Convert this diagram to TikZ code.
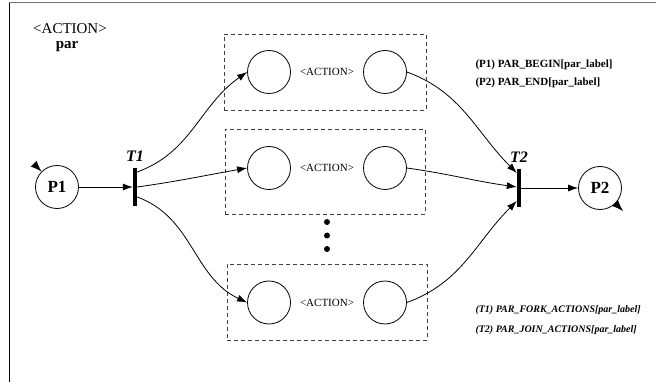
\documentclass[tikz,border=0pt]{standalone}
\usepackage{fontspec}
\setmainfont{Liberation Serif}
\usetikzlibrary{arrows.meta, positioning}

\begin{document}
\begin{tikzpicture}[x = 1pt, y = 1pt,
    place/.style = {draw, circle, minimum size = 43pt, inner sep = 0pt, line width = 0.8pt},
    trans/.style = {fill, minimum width = 4pt, minimum height = 38pt, inner sep = 0pt},
    actbox/.style = {draw = black!75, line width = 0.9pt, dash pattern = on 4pt off 3pt, inner sep = 0pt},
    arc/.style = {line width = 0.8pt, arrows = {-Latex[length = 10pt, width = 7pt]}},
    token/.style = {arrows = {-Latex[length = 11pt, width = 8pt]}},
    dotnode/.style = {circle, fill, minimum size = 6pt, inner sep = 0pt},
    bigbold/.style = {font = \bfseries\fontsize{17}{17}\selectfont},
    tlabel/.style = {font = \bfseries\itshape\fontsize{16}{16}\selectfont},
    note/.style = {anchor = west, font = \bfseries\fontsize{11}{13}\selectfont},
    itnote/.style = {anchor = west, font = \bfseries\itshape\fontsize{10}{12}\selectfont}]
        \useasboundingbox (0,0) rectangle (656,-382);
        % Cornice
        \draw[black!55, line width = 1pt] (9,-3) -- (656,-3);
        \draw[line width = 1pt] (9,-3) -- (9,-382);
        % Titolo
        \node[font = \fontsize{15}{15}\selectfont] (title) at (70,-29) {<ACTION>};
        \node[font = \bfseries\fontsize{15}{15}\selectfont] (par) at (67,-47) {par};
        % Posti e transizioni
        \node[place, bigbold] (P1) at (57,-187) {P1};
        \node[place, bigbold] (P2) at (600,-188) {P2};
        \node[trans] (T1) at (135,-187) {};
        \node[trans] (T2) at (519,-188) {};
        \node[tlabel, above = 3pt of T1] (T1lbl) {T1};
        \node[tlabel, above = 3pt of T2] (T2lbl) {T2};
        \coordinate (tok1) at (34,-164);
        \coordinate (tok2) at (623,-211);
        \draw[token] (tok1) -- (P1.135);
        \draw[token] (P2.-45) -- (tok2);
        % Riquadri delle azioni
        \node[actbox, minimum width = 202pt, minimum height = 76pt] (box1) at (325,-72) {};
        \node[actbox, minimum width = 200pt, minimum height = 85pt] (box2) at (325,-171.5) {};
        \node[actbox, minimum width = 200pt, minimum height = 76pt] (box3) at (327,-302) {};
        \foreach \i/\y in {1/72, 2/168, 3/302.5} {
            \node[place] (A\i) at (269,-\y) {};
            \node[place] (B\i) at (385,-\y) {};
            \node[font = \fontsize{11}{13}\selectfont] (act\i) at (327,-\y) {<ACTION>};
        }
        % Puntini
        \foreach \i/\y in {1/222, 2/235.5, 3/249} {
            \node[dotnode] (dot\i) at (327,-\y) {};
        }
        % Archi
        \draw[arc] (P1) -- (T1);
        \draw[arc] (T2) -- (P2);
        \draw[arc] ([yshift = 15pt]T1.east) to[out = 20, in = 215] (A1.west);
        \draw[arc] ([yshift = 0pt]T1.east) to[out = 8, in = 190] (A2.west);
        \draw[arc] ([yshift = -10pt]T1.east) to[out = -20, in = 155] (A3.west);
        \draw[arc] (B1.east) to[out = -20, in = 135] ([yshift = 15pt]T2.west);
        \draw[arc] (B2.east) to[out = -8, in = 172] ([yshift = 1pt]T2.west);
        \draw[arc] (B3.east) to[out = 20, in = 225] ([yshift = -13pt]T2.west);
        % Note
        \node[note] (n1) at (472,-65) {(P1) PAR\_BEGIN[par\_label]};
        \node[note] (n2) at (472,-83) {(P2) PAR\_END[par\_label]};
        \node[itnote] (n3) at (472,-310) {(T1) PAR\_FORK\_ACTIONS[par\_label]};
        \node[itnote] (n4) at (472,-330) {(T2) PAR\_JOIN\_ACTIONS[par\_label]};
\end{tikzpicture}
\end{document}
